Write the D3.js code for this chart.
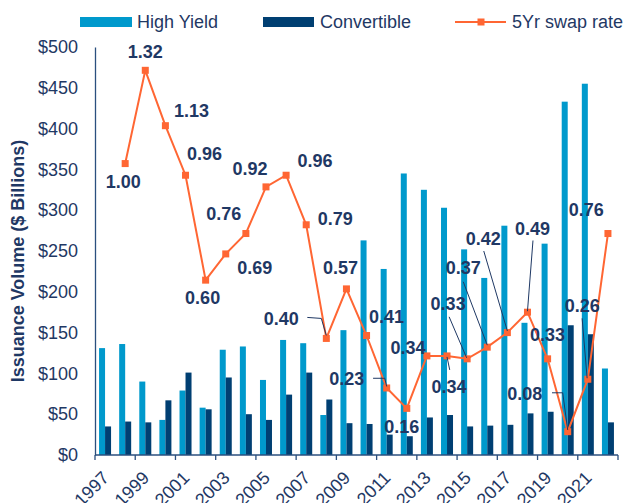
<!DOCTYPE html>
<html>
<head>
<meta charset="utf-8">
<script src="https://cdn.jsdelivr.net/npm/d3@7/dist/d3.min.js"></script>
<style>
  body { margin: 0; background: #fff; }
  svg { display: block; font-family: "Liberation Sans", Arial, sans-serif; }
</style>
</head>
<body>
<div id="chart"></div>
<script>
// Issuance volume ($bn) per year and the 5Yr swap rate
const years = ["1997","1998","1999","2000","2001","2002","2003","2004","2005","2006","2007","2008","2009",
               "2010","2011","2012","2013","2014","2015","2016","2017","2018","2019","2020","2021","2022"];
const highYield   = [131,136,90,43,79,58,129,133,92,141,137,49,153,263,228,345,325,303,252,217,281,162,259,433,455,106];
const convertible = [35,41,40,67,101,56,95,50,43,74,101,68,39,38,25,23,46,49,35,36,37,51,53,159,148,40];

const rateYears = ["1998","1999","2000","2001","2002","2003","2004","2005","2006","2007","2008","2009","2010",
                   "2011","2012","2013","2014","2015","2016","2017","2018","2019","2020","2021","2022"];
const swapRate = [1.00,1.32,1.13,0.96,0.60,0.69,0.76,0.92,0.96,0.79,0.40,0.57,0.41,0.23,0.16,0.34,0.34,0.33,0.37,0.42,0.49,0.33,0.08,0.26,0.76];

const yTicks = [0,50,100,150,200,250,300,350,400,450,500];
const xTickLabels = ["1997","1999","2001","2003","2005","2007","2009","2011","2013","2015","2017","2019","2021"];

// colours
const hyColor = "#0099cc";
const cvColor = "#003f72";
const rateColor = "#ff6633";
const textColor = "#1f3864";
const axisColor = "#2b4f7e";

// where each data label sits relative to its point (dragged around in the original)
const labelLayout = [
  {dx: -2, dy: 18}, {dx: 0, dy: -19}, {dx: 26, dy: -15}, {dx: 19, dy: -22}, {dx: -3, dy: 18},
  {dx: 29, dy: 14}, {dx: -22, dy: -20}, {dx: -16, dy: -18}, {dx: 29, dy: -15}, {dx: 29, dy: -6},
  {dx: -45, dy: -20, leader: [[-19, -21], [-5, -20], [0, -3]]},
  {dx: -6, dy: -21}, {dx: 20, dy: -19},
  {dx: -40, dy: -9, leader: [[-13.6, -9.7], [-1.9, -9.7], [0, -1.5]]},
  {dx: -5, dy: 18}, {dx: -19, dy: -8},
  {dx: 2, dy: 31, leader: [[2.7, 14], [0, 1]]},
  {dx: -19, dy: -55, leader: [[-18, -42], [-0.5, -1]]},
  {dx: -24, dy: -79, leader: [[-24, -65.4], [0, -2]]},
  {dx: -24, dy: -94, leader: [[-23.6, -81.6], [0, -1.6]]},
  {dx: 5, dy: -84, leader: [[5.5, -71.7], [0, -1]]},
  {dx: 0, dy: -24},
  {dx: -43, dy: -38, leader: [[-15.7, -38.9], [-5, -38.9], [0, -1.7]]},
  {dx: -5.5, dy: -74, leader: [[-5.7, -60.9], [-0.7, -1]]},
  {dx: -21.6, dy: -24}
];

const W = 628, H = 503;
const margin = {top: 47, right: 10, bottom: 48, left: 95};

const svg = d3.select("#chart").append("svg")
    .attr("width", W)
    .attr("height", H);

const x = d3.scaleBand()
    .domain(years)
    .range([margin.left, W - margin.right]);

const y = d3.scaleLinear()
    .domain([0, 500])
    .range([H - margin.bottom, margin.top]);

// secondary (hidden) axis for the swap rate
const yRate = d3.scaleLinear()
    .domain([0, 1.4])
    .range([H - margin.bottom, margin.top]);

const barW = 6;
const cx = d => x(d) + x.bandwidth() / 2;

// bars
svg.append("g").selectAll("rect")
    .data(years)
    .enter()
    .append("rect")
    .attr("x", d => cx(d) - barW)
    .attr("y", (d, i) => y(highYield[i]))
    .attr("width", barW)
    .attr("height", (d, i) => y(0) - y(highYield[i]))
    .attr("fill", hyColor);

svg.append("g").selectAll("rect")
    .data(years)
    .enter()
    .append("rect")
    .attr("x", d => cx(d))
    .attr("y", (d, i) => y(convertible[i]))
    .attr("width", barW)
    .attr("height", (d, i) => y(0) - y(convertible[i]))
    .attr("fill", cvColor);

// y axis
const yAxis = svg.append("g")
    .attr("transform", `translate(${margin.left},0)`)
    .call(d3.axisLeft(y).tickValues(yTicks).tickSize(0).tickPadding(17).tickFormat(d => "$" + d));
yAxis.select(".domain").attr("stroke", axisColor).attr("stroke-width", 1.3);
yAxis.selectAll("text")
    .style("font-size", "18px")
    .attr("fill", textColor);

// x axis: ticks every two years on category boundaries
const xAxis = svg.append("g");
xAxis.append("line")
    .attr("x1", margin.left).attr("x2", W - margin.right)
    .attr("y1", y(0)).attr("y2", y(0))
    .attr("stroke", axisColor).attr("stroke-width", 1.3);

const boundaryTicks = years.filter((d, i) => i % 2 === 0).map(d => x(d)).concat([W - margin.right]);
xAxis.selectAll(".tick")
    .data(boundaryTicks)
    .enter()
    .append("line")
    .attr("x1", d => d).attr("x2", d => d)
    .attr("y1", y(0)).attr("y2", y(0) + 5)
    .attr("stroke", axisColor).attr("stroke-width", 1.3);

xAxis.selectAll(".xlabel")
    .data(xTickLabels)
    .enter()
    .append("text")
    .attr("transform", d => `translate(${cx(d) + 5},${y(0) + 24}) rotate(-45)`)
    .style("text-anchor", "end")
    .style("font-size", "18px")
    .attr("fill", textColor)
    .text(d => d);

// y axis title
svg.append("text")
    .attr("transform", `translate(18,${(y(0) + y(500)) / 2 + 10}) rotate(-90)`)
    .attr("dy", "0.35em")
    .style("text-anchor", "middle")
    .style("font-size", "18px")
    .style("font-weight", "bold")
    .attr("fill", textColor)
    .text("Issuance Volume ($ Billions)");

// swap rate line
const rateX = d => cx(d);
const line = d3.line()
    .x((d, i) => rateX(rateYears[i]))
    .y(d => yRate(d));

svg.append("path")
    .datum(swapRate)
    .attr("d", line)
    .attr("fill", "none")
    .attr("stroke", rateColor)
    .attr("stroke-width", 2);

svg.append("g").selectAll("rect")
    .data(swapRate)
    .enter()
    .append("rect")
    .attr("x", (d, i) => rateX(rateYears[i]) - 3.5)
    .attr("y", d => yRate(d) - 3.5)
    .attr("width", 7)
    .attr("height", 7)
    .attr("fill", rateColor);

// leader lines and data labels
const labels = svg.append("g");
swapRate.forEach((v, i) => {
    const px = rateX(rateYears[i]);
    const py = yRate(v);
    const lay = labelLayout[i];
    if (lay.leader) {
        labels.append("path")
            .attr("d", d3.line()(lay.leader.map(p => [px + p[0], py + p[1]])))
            .attr("fill", "none")
            .attr("stroke", textColor)
            .attr("stroke-width", 1);
    }
    labels.append("text")
        .attr("x", px + lay.dx)
        .attr("y", py + lay.dy)
        .attr("dy", "0.35em")
        .style("text-anchor", "middle")
        .style("font-size", "18px")
        .style("font-weight", "bold")
        .attr("fill", textColor)
        .text(d3.format(".2f")(v));
});

// legend
const legend = svg.append("g").attr("transform", "translate(0,22)");
legend.append("rect").attr("x", 80).attr("y", -5).attr("width", 52).attr("height", 10).attr("fill", hyColor);
legend.append("text").attr("x", 137).attr("dy", "0.35em").style("font-size", "18px").attr("fill", textColor).text("High Yield");
legend.append("rect").attr("x", 263).attr("y", -5).attr("width", 51).attr("height", 10).attr("fill", cvColor);
legend.append("text").attr("x", 320).attr("dy", "0.35em").style("font-size", "18px").attr("fill", textColor).text("Convertible");
legend.append("line").attr("x1", 455).attr("x2", 506).attr("stroke", rateColor).attr("stroke-width", 2);
legend.append("rect").attr("x", 477.5).attr("y", -3.5).attr("width", 7).attr("height", 7).attr("fill", rateColor);
legend.append("text").attr("x", 512).attr("dy", "0.35em").style("font-size", "18px").attr("fill", textColor).text("5Yr swap rate");
</script>
</body>
</html>
